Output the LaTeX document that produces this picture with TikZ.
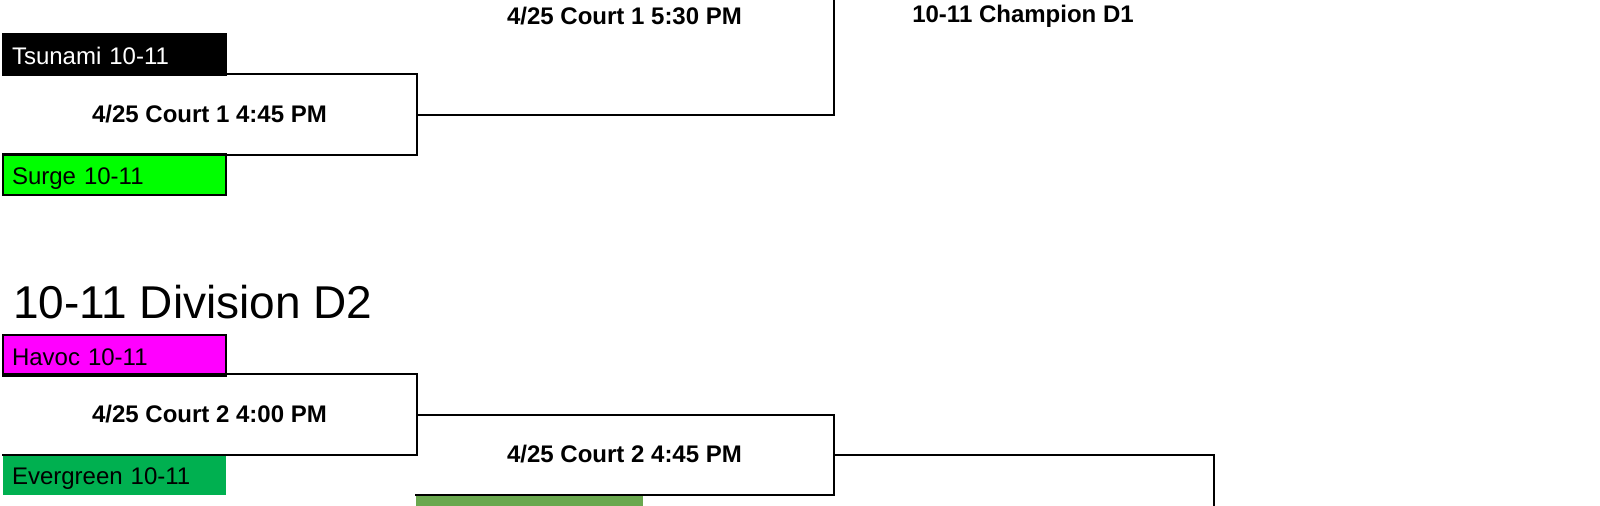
\documentclass[tikz,border=0pt]{standalone}
\usepackage{fontspec}
\setmainfont{Liberation Sans}
\definecolor{surge}{HTML}{00FF00}
\definecolor{havoc}{HTML}{FF00FF}
\definecolor{evergreen}{HTML}{00B050}
\definecolor{olive}{HTML}{6AA84F}
\begin{document}
\begin{tikzpicture}[x=0.5pt,y=-0.5pt,line width=1pt,
  team/.style={draw,anchor=north west,minimum height=20.5pt,text width=102.5pt,
    text height=10.5pt,text depth=0.5pt,inner xsep=4.5pt,inner ysep=0pt,
    align=left,font=\fontsize{12}{14}\selectfont},
  match/.style={anchor=north west,minimum width=206.5pt,minimum height=39.5pt,
    inner sep=0pt,font=\bfseries\fontsize{12}{14}\selectfont}]
\clip (0,0) rectangle (1600,505);
\node[match, minimum width=208.5pt, minimum height=98pt] (m3) at (415,-83) {4/25 Court 1 5:30 PM};
\node[font=\bfseries\fontsize{12}{14}\selectfont] (champ) at (1023,16) {10-11 Champion D1};
\node[team, fill=black, text=white] (tsunami) at (2,33) {Tsunami 10-11};
\node[match] (m1) at (2,74) {4/25 Court 1 4:45 PM};
\node[team, fill=surge] (surge) at (2,153) {Surge 10-11};
\draw (m1.north west) -| (m1.south east) -- (m1.south west);
\draw (m1.east) -| (m3.north east);
\node[anchor=base west, inner sep=0pt, font=\fontsize{23}{27}\selectfont] (title) at (12,318) {10-11 Division D2};
\node[team, fill=havoc] (havoc) at (2,334) {Havoc 10-11};
\node[match] (m2) at (2,374) {4/25 Court 2 4:00 PM};
\node[team, draw=none, fill=evergreen] (evergreen) at (2,453) {Evergreen 10-11};
\node[match, minimum width=208.5pt] (m4) at (415,414) {4/25 Court 2 4:45 PM};
\node[team, draw=none, fill=olive, text width=104.5pt] (bye) at (415,493) {};
\coordinate (final) at (1214,520);
\draw (m2.north west) -| (m2.south east) -- (m2.south west);
\draw (m2.east) -| (m4.south east) -- (m4.south west);
\draw (m4.east) -| (final);
\end{tikzpicture}
\end{document}
